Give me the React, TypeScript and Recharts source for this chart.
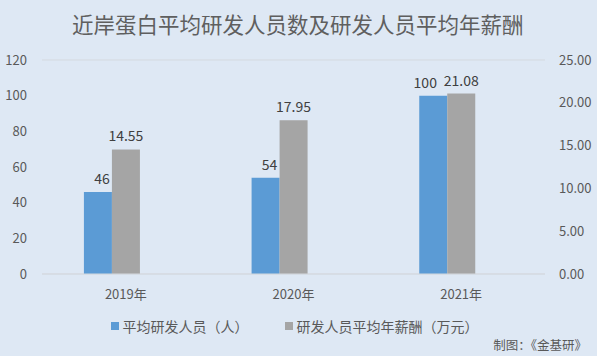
import {
  Bar,
  BarChart,
  CartesianGrid,
  LabelList,
  Legend,
  XAxis,
  YAxis,
} from "recharts"

const years = ["2019年", "2020年", "2021年"]
const staffCount = [46, 54, 100]
const avgSalary = [14.55, 17.95, 21.08]
// Excel's chart reserves a third (empty) slot per category, so bars sit left of the label
const emptySlot = [null, null, null]

const leftTicks = [0, 20, 40, 60, 80, 100, 120]
const rightTicks = [0, 5, 10, 15, 20, 25]

const data = years.map((year, i) => ({
  year,
  staff: staffCount[i],
  salary: avgSalary[i],
  empty: emptySlot[i],
}))

const FONT = '"Noto Sans CJK SC", "Noto Sans", sans-serif'
const BG = "#dee8f4"
const BLUE = "#5b9bd5"
const GRAY = "#a5a5a5"

const legendItems = [
  { label: "平均研发人员（人）", color: BLUE },
  { label: "研发人员平均年薪酬（万元）", color: GRAY },
]

function ChartLegend() {
  return (
    <div
      style={{
        display: "flex",
        justifyContent: "center",
        gap: 36,
        fontFamily: FONT,
        fontSize: 14,
        color: "#595959",
        width: 597,
        paddingRight: 8,
        boxSizing: "border-box",
      }}
    >
      {legendItems.map((item) => (
        <span key={item.label} style={{ display: "flex", alignItems: "center" }}>
          <span
            style={{
              width: 8,
              height: 8,
              background: item.color,
              marginRight: 4,
              display: "inline-block",
            }}
          />
          {item.label}
        </span>
      ))}
    </div>
  )
}

// Excel nudged the blue labels sideways (the 2021 one to dodge its neighbour)
function StaffLabel(props: any) {
  const { x, y, width, value, index } = props
  const nudge = index === 2 ? -8 : 4
  return (
    <text
      x={x + width / 2 + nudge}
      y={y - 8}
      textAnchor="middle"
      fill="#404040"
      fontSize={14}
      fontFamily={FONT}
    >
      {value}
    </text>
  )
}

export default function App() {
  return (
    <div
      style={{
        position: "relative",
        width: 597,
        height: 356,
        background: BG,
        fontFamily: FONT,
      }}
    >
      <style>{"body{margin:0}"}</style>
      <div
        style={{
          position: "absolute",
          top: 9,
          left: 72,
          fontSize: 21.5,
          color: "#5f5f5f",
          whiteSpace: "nowrap",
          lineHeight: "30px",
        }}
      >
        近岸蛋白平均研发人员数及研发人员平均年薪酬
      </div>
      <BarChart
        width={597}
        height={356}
        data={data}
        margin={{ top: 60, right: 0, left: 0, bottom: 32 }}
        barCategoryGap="25%"
        barGap={0}
        style={{ position: "absolute", top: 0, left: 0 }}
      >
        <CartesianGrid stroke="#d4d9df" vertical={false} />
        <XAxis
          dataKey="year"
          tick={{ fill: "#595959", fontSize: 13, fontFamily: FONT }}
          tickLine={false}
          axisLine={{ stroke: "#d4d9df" }}
          tickMargin={10}
          height={30}
        />
        <YAxis
          yAxisId="left"
          domain={[0, 120]}
          ticks={leftTicks}
          tick={{ fill: "#595959", fontSize: 13, fontFamily: FONT }}
          tickLine={false}
          axisLine={false}
          tickMargin={9}
          width={42}
        />
        <YAxis
          yAxisId="right"
          orientation="right"
          domain={[0, 25]}
          ticks={rightTicks}
          tickFormatter={(v: number) => v.toFixed(2)}
          tick={{ fill: "#595959", fontSize: 13, fontFamily: FONT, textAnchor: "start" }}
          tickLine={false}
          axisLine={false}
          tickMargin={8}
          width={52}
        />
        <Legend
          content={() => <ChartLegend />}
          wrapperStyle={{ position: "absolute", top: 316, left: 0 }}
        />
        <Bar
          yAxisId="left"
          dataKey="staff"
          name="平均研发人员（人）"
          fill={BLUE}
          isAnimationActive={false}
        >
          <LabelList dataKey="staff" content={<StaffLabel />} />
        </Bar>
        <Bar
          yAxisId="right"
          dataKey="salary"
          name="研发人员平均年薪酬（万元）"
          fill={GRAY}
          isAnimationActive={false}
        >
          <LabelList
            dataKey="salary"
            position="top"
            offset={8}
            fill="#404040"
            fontSize={14}
            fontFamily={FONT}
            formatter={(v: number) => v.toFixed(2)}
          />
        </Bar>
        <Bar
          yAxisId="left"
          dataKey="empty"
          fill="transparent"
          legendType="none"
          isAnimationActive={false}
        />
      </BarChart>
      <div
        style={{
          position: "absolute",
          right: 10,
          bottom: 2,
          fontSize: 12.5,
          color: "#595959",
          whiteSpace: "nowrap",
        }}
      >
        制图：《金基研》
      </div>
    </div>
  )
}
